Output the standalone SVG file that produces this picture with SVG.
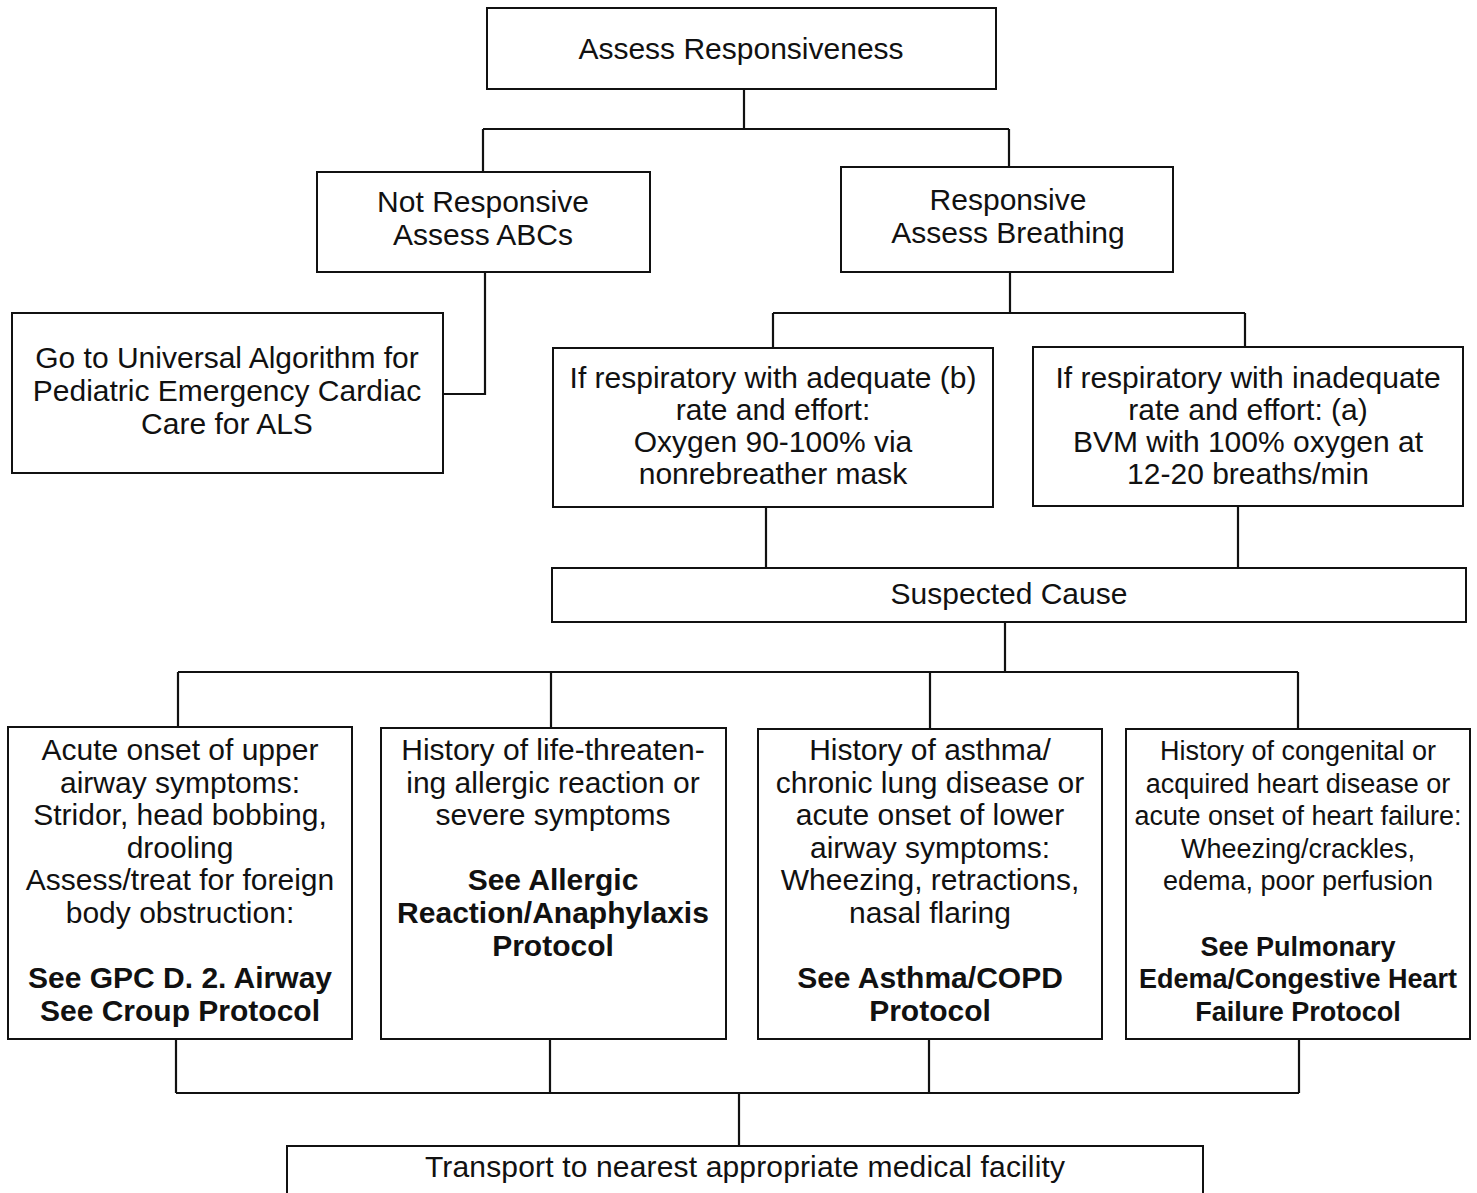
<svg xmlns="http://www.w3.org/2000/svg" width="1477" height="1193" viewBox="0 0 1477 1193">
<style>
.box{fill:#fff;stroke:#111;stroke-width:2}
.c{fill:none;stroke:#111;stroke-width:2.2}
text{font-family:"Liberation Sans",Arial,Helvetica,sans-serif;font-size:30px;fill:#111;text-anchor:middle}
.b{font-weight:bold}
.s{font-size:27px}
</style>
<rect width="1477" height="1193" fill="#fff"/>
<g id="connectors">
<path class="c" d="M744 89V129M483 129H1009M483 129V172M1009 129V167"/>
<path class="c" d="M485 272V394H443"/>
<path class="c" d="M1010 272V313M773 313H1245M773 313V348M1245 313V347"/>
<path class="c" d="M766 507V568M1238 506V568"/>
<path class="c" d="M1005 622V672M178 672H1298M178 672V727M551 672V728M930 672V729M1298 672V729"/>
<path class="c" d="M176 1039V1093M550 1039V1093M929 1039V1093M1299 1039V1093M176 1093H1299M739 1093V1146"/>
</g>
<g id="assess">
<rect class="box" x="487" y="8" width="509" height="81"/>
<text x="741" y="59">Assess Responsiveness</text>
</g>
<g id="not-responsive">
<rect class="box" x="317" y="172" width="333" height="100"/>
<text x="483" y="212">Not Responsive</text>
<text x="483" y="245">Assess ABCs</text>
</g>
<g id="responsive">
<rect class="box" x="841" y="167" width="332" height="105"/>
<text x="1008" y="210">Responsive</text>
<text x="1008" y="243">Assess Breathing</text>
</g>
<g id="universal">
<rect class="box" x="12" y="313" width="431" height="160"/>
<text x="227" y="368">Go to Universal Algorithm for</text>
<text x="227" y="401">Pediatric Emergency Cardiac</text>
<text x="227" y="434">Care for ALS</text>
</g>
<g id="adequate">
<rect class="box" x="553" y="348" width="440" height="159"/>
<text x="773" y="388">If respiratory with adequate (b)</text>
<text x="773" y="420">rate and effort:</text>
<text x="773" y="452">Oxygen 90-100% via</text>
<text x="773" y="484">nonrebreather mask</text>
</g>
<g id="inadequate">
<rect class="box" x="1033" y="347" width="430" height="159"/>
<text x="1248" y="388">If respiratory with inadequate</text>
<text x="1248" y="420">rate and effort: (a)</text>
<text x="1248" y="452">BVM with 100% oxygen at</text>
<text x="1248" y="484">12-20 breaths/min</text>
</g>
<g id="suspected">
<rect class="box" x="552" y="568" width="914" height="54"/>
<text x="1009" y="604">Suspected Cause</text>
</g>
<g id="upper-airway">
<rect class="box" x="8" y="727" width="344" height="312"/>
<text x="180" y="760">Acute onset of upper</text>
<text x="180" y="792.6">airway symptoms:</text>
<text x="180" y="825.2">Stridor, head bobbing,</text>
<text x="180" y="857.8">drooling</text>
<text x="180" y="890.4">Assess/treat for foreign</text>
<text x="180" y="923">body obstruction:</text>
<text class="b" x="180" y="988.2">See GPC D. 2. Airway</text>
<text class="b" x="180" y="1020.8">See Croup Protocol</text>
</g>
<g id="allergic">
<rect class="box" x="381" y="728" width="345" height="311"/>
<text x="553" y="760">History of life-threaten-</text>
<text x="553" y="792.6">ing allergic reaction or</text>
<text x="553" y="825.2">severe symptoms</text>
<text class="b" x="553" y="890.4">See Allergic</text>
<text class="b" x="553" y="923">Reaction/Anaphylaxis</text>
<text class="b" x="553" y="955.6">Protocol</text>
</g>
<g id="asthma">
<rect class="box" x="758" y="729" width="344" height="310"/>
<text x="930" y="760">History of asthma/</text>
<text x="930" y="792.6">chronic lung disease or</text>
<text x="930" y="825.2">acute onset of lower</text>
<text x="930" y="857.8">airway symptoms:</text>
<text x="930" y="890.4">Wheezing, retractions,</text>
<text x="930" y="923">nasal flaring</text>
<text class="b" x="930" y="988.2">See Asthma/COPD</text>
<text class="b" x="930" y="1020.8">Protocol</text>
</g>
<g id="heart">
<rect class="box" x="1126" y="729" width="344" height="310"/>
<text class="s" x="1298" y="760">History of congenital or</text>
<text class="s" x="1298" y="792.6">acquired heart disease or</text>
<text class="s" x="1298" y="825.2">acute onset of heart failure:</text>
<text class="s" x="1298" y="857.8">Wheezing/crackles,</text>
<text class="s" x="1298" y="890.4">edema, poor perfusion</text>
<text class="b s" x="1298" y="955.6">See Pulmonary</text>
<text class="b s" x="1298" y="988.2">Edema/Congestive Heart</text>
<text class="b s" x="1298" y="1020.8">Failure Protocol</text>
</g>
<g id="transport">
<rect class="box" x="287" y="1146" width="916" height="60"/>
<text x="745" y="1177" textLength="640" lengthAdjust="spacing">Transport to nearest appropriate medical facility</text>
</g>
</svg>
